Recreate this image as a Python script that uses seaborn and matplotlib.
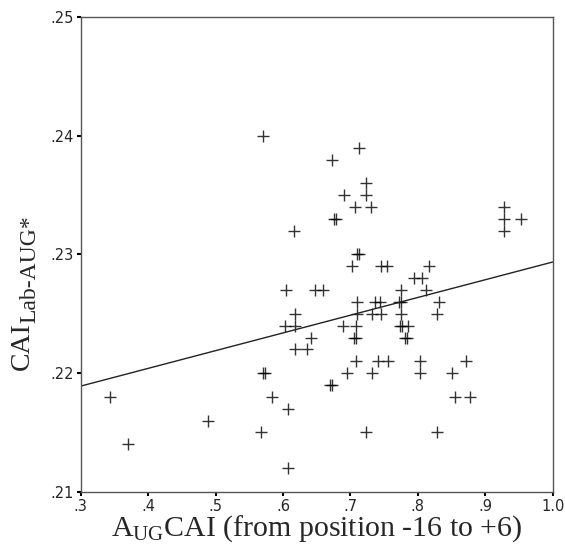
import matplotlib
matplotlib.use("Agg")
import matplotlib.pyplot as plt
import seaborn as sns
import pandas as pd

# values, grouped by y row
aug_cai = [0.570,
           0.712,
           0.673,
           0.723,
           0.690, 0.723,
           0.707, 0.730, 0.927,
           0.676, 0.679, 0.927, 0.953,
           0.617, 0.927,
           0.710, 0.713,
           0.703, 0.745, 0.754, 0.817,
           0.795, 0.806,
           0.605, 0.648, 0.660, 0.775, 0.812,
           0.710, 0.737, 0.744, 0.772, 0.775, 0.832,
           0.618, 0.710, 0.732, 0.745, 0.775, 0.829,
           0.603, 0.618, 0.689, 0.709, 0.773, 0.776, 0.786,
           0.642, 0.706, 0.709, 0.781, 0.784,
           0.618, 0.635,
           0.709, 0.741, 0.756, 0.803, 0.872,
           0.571, 0.574, 0.695, 0.732, 0.803, 0.851,
           0.669, 0.672,
           0.344, 0.584, 0.855, 0.878,
           0.607,
           0.489,
           0.567, 0.723, 0.829,
           0.370,
           0.607]
cai_lab = [0.240,
           0.239,
           0.238,
           0.236,
           0.235, 0.235,
           0.234, 0.234, 0.234,
           0.233, 0.233, 0.233, 0.233,
           0.232, 0.232,
           0.230, 0.230,
           0.229, 0.229, 0.229, 0.229,
           0.228, 0.228,
           0.227, 0.227, 0.227, 0.227, 0.227,
           0.226, 0.226, 0.226, 0.226, 0.226, 0.226,
           0.225, 0.225, 0.225, 0.225, 0.225, 0.225,
           0.224, 0.224, 0.224, 0.224, 0.224, 0.224, 0.224,
           0.223, 0.223, 0.223, 0.223, 0.223,
           0.222, 0.222,
           0.221, 0.221, 0.221, 0.221, 0.221,
           0.220, 0.220, 0.220, 0.220, 0.220, 0.220,
           0.219, 0.219,
           0.218, 0.218, 0.218, 0.218,
           0.217,
           0.216,
           0.215, 0.215, 0.215,
           0.214,
           0.212]

x_ticks = [0.3, 0.4, 0.5, 0.6, 0.7, 0.8, 0.9, 1.0]
x_ticklabels = [".3", ".4", ".5", ".6", ".7", ".8", ".9", "1.0"]
y_ticks = [0.21, 0.22, 0.23, 0.24, 0.25]
y_ticklabels = [".21", ".22", ".23", ".24", ".25"]

df = pd.DataFrame({"aug": aug_cai, "cai": cai_lab})

sns.set_style("white")
plt.rcParams.update({"mathtext.fontset": "custom",
                     "mathtext.rm": "Liberation Serif",
                     "mathtext.it": "Liberation Serif:italic",
                     "mathtext.bf": "Liberation Serif:bold"})

fig = plt.figure(figsize=(5.65, 5.49), dpi=100)
ax = fig.add_axes([0.1428, 0.1044, 0.8355, 0.8641])
ax.set_xlim(0.3, 1.0)
ax.set_ylim(0.21, 0.25)

sns.regplot(data=df, x="aug", y="cai", ax=ax, ci=None, truncate=False,
            marker="+",
            scatter_kws={"s": 75, "color": "black", "linewidths": 1.0},
            line_kws={"color": "#222222", "linewidth": 1.0})

ax.set_xlim(0.3, 1.0)
ax.set_ylim(0.21, 0.25)
ax.set_xticks(x_ticks)
ax.set_xticklabels(x_ticklabels, fontfamily="DejaVu Sans", fontsize=10.5)
ax.set_yticks(y_ticks)
ax.set_yticklabels(y_ticklabels, fontfamily="DejaVu Sans", fontsize=10.5)
ax.tick_params(direction="out", length=3, width=1.5, color="black", pad=2,
               bottom=True, left=True)

for s in ax.spines.values():
    s.set_color("#555555")
    s.set_linewidth(1.0)

ax.set_xlabel(r"A$_{\text{UG}}$CAI (from position -16 to +6)",
              fontfamily="Liberation Serif", fontsize=21.5, labelpad=0)
ax.set_ylabel("")

# y label built from two pieces so the subscript can be bigger than mathtext's
fig.text(22, 179, "CAI", transform=None, rotation=90,
         ha="center", va="bottom", fontfamily="Liberation Serif", fontsize=20)
fig.text(30, 226, "Lab-AUG*", transform=None, rotation=90,
         ha="center", va="bottom", fontfamily="Liberation Serif", fontsize=17)

fig.savefig("out.png", dpi=100)
